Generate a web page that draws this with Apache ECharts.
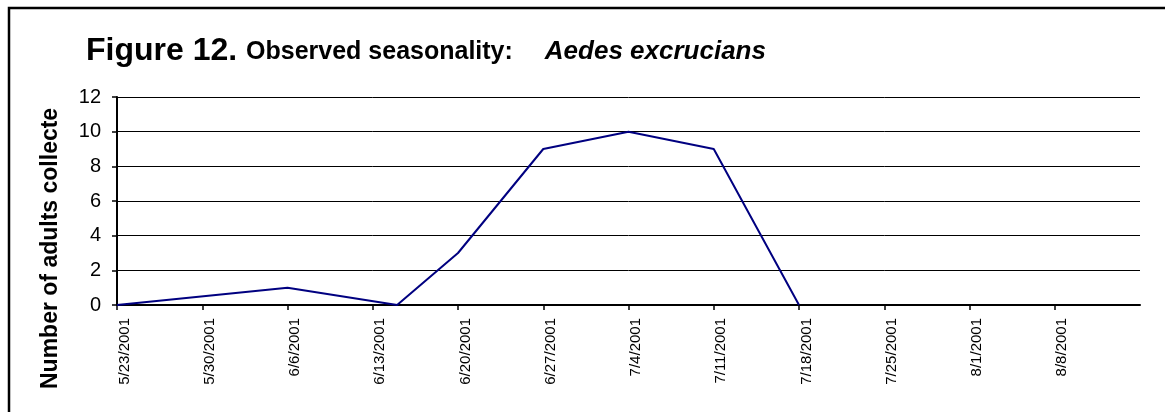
<!DOCTYPE html>
<html>
<head>
<meta charset="utf-8">
<title>Figure 12</title>
<script src="https://cdn.jsdelivr.net/npm/echarts@6/dist/echarts.min.js"></script>
<style>
    html, body { margin: 0; padding: 0; background: #fff; }
    #chart { width: 1165px; height: 412px; }
</style>
</head>
<body>
<div id="chart"></div>
<script>
// collection dates and counts
var sampleDates = ['2001-05-23', '2001-06-06', '2001-06-15', '2001-06-20', '2001-06-27', '2001-07-04', '2001-07-11', '2001-07-18'];
var adultCounts = [0, 1, 0, 3, 9, 10, 9, 0];

// axis range: first tick 5/23/2001, weekly ticks up to 8/15/2001
var axisStart = '2001-05-23';
var axisEnd = '2001-08-15';
var yTicks = [0, 2, 4, 6, 8, 10, 12];

var titleMain = 'Figure 12.';
var titleSub = 'Observed seasonality:';
var titleSpecies = 'Aedes excrucians';
var yAxisTitle = 'Number of adults collected';

(function() {
    var DAY = 86400000;
    var t0 = Date.parse(axisStart + 'T00:00:00Z');

    function dayOffset(s) {
        return Math.round((Date.parse(s + 'T00:00:00Z') - t0) / DAY);
    }
    function fmtDate(v) {
        var d = new Date(t0 + v * DAY);
        return (d.getUTCMonth() + 1) + '/' + d.getUTCDate() + '/' + d.getUTCFullYear();
    }

    var points = sampleDates.map(function(s, i) {
        return [dayOffset(s), adultCounts[i]];
    });

    var myChart = echarts.init(document.getElementById('chart'), null, {renderer: 'canvas'});

    var option = {
        backgroundColor: '#ffffff',
        animation: false,
        title: {
            left: 86,
            top: 35,
            padding: 0,
            text: '{a|' + titleMain + ' }{b|' + titleSub + '}{c|' + titleSpecies + '}',
            textStyle: {
                rich: {
                    a: {fontFamily: 'Arial, "Liberation Sans"', fontSize: 32, fontWeight: 'bold', color: '#000', verticalAlign: 'bottom'},
                    b: {fontFamily: 'Arial, "Liberation Sans"', fontSize: 25, fontWeight: 'bold', color: '#000', verticalAlign: 'bottom', padding: [0, 0, 2, 0]},
                    c: {fontFamily: 'Arial, "Liberation Sans"', fontSize: 26, fontWeight: 'bold', fontStyle: 'italic', color: '#000', verticalAlign: 'bottom', padding: [0, 0, 2, 32]}
                }
            }
        },
        grid: {
            left: 117,
            right: 25,
            top: 97,
            bottom: 107,
            containLabel: false
        },
        xAxis: {
            type: 'value',
            min: 0,
            max: dayOffset(axisEnd),
            interval: 7,
            axisLine: {show: true, onZero: false, lineStyle: {color: '#000', width: 2}},
            axisTick: {show: true, length: 5, lineStyle: {color: '#000', width: 1.5}},
            splitLine: {show: false},
            axisLabel: {
                rotate: 90,
                margin: 13,
                verticalAlign: 'top',
                showMaxLabel: false,
                fontFamily: 'Arial, "Liberation Sans"',
                fontSize: 15,
                color: '#000',
                formatter: function(v) { return fmtDate(v); }
            }
        },
        yAxis: {
            type: 'value',
            min: yTicks[0],
            max: yTicks[yTicks.length - 1],
            interval: yTicks[1] - yTicks[0],
            axisLine: {show: true, lineStyle: {color: '#000', width: 2}},
            axisTick: {show: true, length: 5, lineStyle: {color: '#000', width: 1.5}},
            splitLine: {show: true, lineStyle: {color: '#000', width: 1}},
            axisLabel: {
                margin: 16,
                fontFamily: 'Arial, "Liberation Sans"',
                fontSize: 20,
                color: '#000'
            }
        },
        series: [
            {
                name: 'adults',
                type: 'line',
                data: points,
                showSymbol: false,
                symbol: 'none',
                lineStyle: {color: '#000080', width: 2},
                z: 3
            }
        ],
        graphic: [
            {
                // outer chart frame (only left and top edges fall inside the picture)
                type: 'rect',
                shape: {x: 9, y: 8, width: 2000, height: 1000},
                style: {fill: 'none', stroke: '#000', lineWidth: 2.5},
                silent: true
            },
            {
                type: 'text',
                x: 51,
                y: 389,
                rotation: Math.PI / 2,
                style: {
                    text: yAxisTitle,
                    font: 'bold 23px Arial, "Liberation Sans"',
                    fill: '#000',
                    align: 'left',
                    verticalAlign: 'middle',
                    width: 289,
                    overflow: 'truncate',
                    ellipsis: ''
                },
                silent: true
            }
        ]
    };

    myChart.setOption(option);
})();
</script>
</body>
</html>
